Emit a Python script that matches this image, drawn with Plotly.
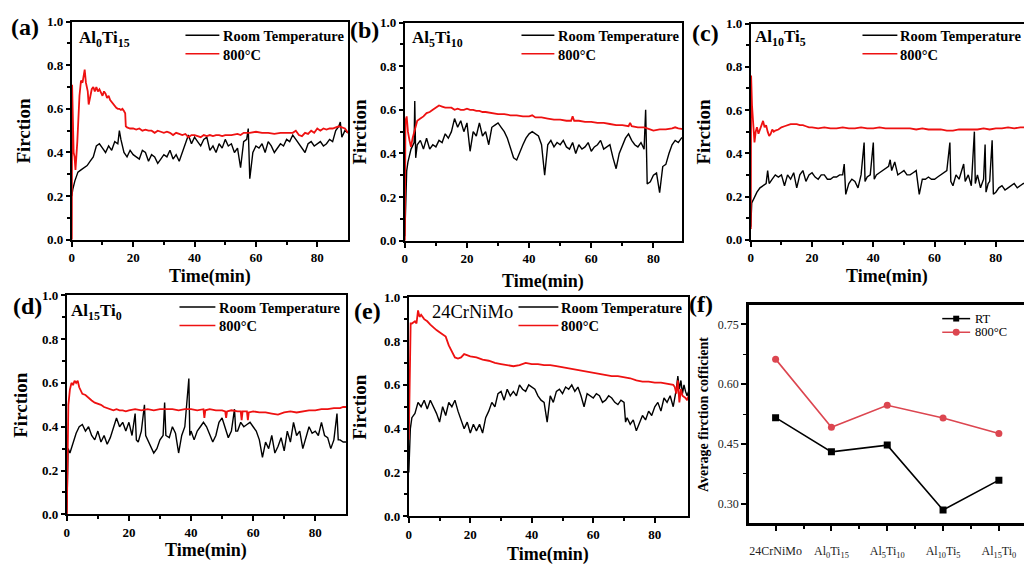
import plotly.graph_objects as go

# ---------------------------------------------------------------------------
# Friction coefficient vs. sliding time, (time [min], friction) pairs
# ---------------------------------------------------------------------------
A_RT = [(0, 0.20), (0.3, 0.23), (1, 0.27), (2, 0.31), (3, 0.32), (4, 0.33), (5, 0.34), (6, 0.36),
        (7, 0.38), (8, 0.43), (9, 0.44), (10, 0.42), (11, 0.40), (12, 0.43), (13, 0.41), (14, 0.45),
        (15, 0.44), (15.5, 0.50), (16, 0.46), (17, 0.40), (18, 0.38), (19, 0.41), (20, 0.39), (21, 0.38),
        (22, 0.37), (23, 0.41), (24, 0.40), (25, 0.36), (26, 0.39), (27, 0.38), (28, 0.35), (29, 0.37),
        (30, 0.39), (31, 0.38), (32, 0.41), (33, 0.37), (34, 0.39), (35, 0.36), (36, 0.40), (37, 0.45),
        (38, 0.48), (39, 0.44), (40, 0.47), (41, 0.45), (42, 0.43), (43, 0.46), (44, 0.47), (45, 0.41),
        (46, 0.43), (47, 0.40), (48, 0.44), (49, 0.42), (50, 0.46), (51, 0.43), (52, 0.44), (53, 0.40),
        (54, 0.42), (55, 0.33), (56, 0.45), (57, 0.46), (57.5, 0.51), (58, 0.28), (59, 0.40), (60, 0.43),
        (61, 0.42), (62, 0.44), (63, 0.40), (64, 0.45), (65, 0.43), (66, 0.40), (67, 0.42), (68, 0.44),
        (69, 0.43), (70, 0.46), (71, 0.45), (72, 0.48), (73, 0.46), (74, 0.44), (75, 0.42), (76, 0.40),
        (77, 0.44), (78, 0.45), (79, 0.43), (80, 0.44), (81, 0.45), (82, 0.43), (83, 0.44), (84, 0.46),
        (85, 0.45), (86, 0.50), (87, 0.52), (87.5, 0.54), (88, 0.47), (89, 0.50), (90, 0.49)]
A_HT = [(0, 0.0), (0.1, 0.71), (0.6, 0.40), (0.9, 0.38), (1.2, 0.32), (1.8, 0.45), (2.5, 0.66), (3, 0.73),
        (3.5, 0.72), (4.2, 0.78), (4.6, 0.72), (5.2, 0.68), (5.5, 0.62), (6, 0.66), (6.5, 0.69), (7, 0.70),
        (7.5, 0.68), (8, 0.70), (8.5, 0.68), (9, 0.69), (9.5, 0.67), (10, 0.66), (10.5, 0.68), (11, 0.67),
        (11.5, 0.65), (12, 0.66), (12.5, 0.64), (13, 0.63), (13.5, 0.62), (14, 0.61), (14.5, 0.605),
        (15, 0.60), (15.5, 0.60), (16, 0.595), (16.5, 0.60), (17, 0.59), (17.4, 0.58), (17.6, 0.52),
        (18, 0.515), (19, 0.51), (20, 0.51), (21, 0.505), (22, 0.51), (23, 0.50), (24, 0.505), (25, 0.50),
        (26, 0.50), (27, 0.49), (28, 0.50), (29, 0.495), (30, 0.49), (31, 0.495), (32, 0.49), (33, 0.48),
        (34, 0.49), (35, 0.485), (36, 0.48), (37, 0.485), (38, 0.47), (39, 0.48), (40, 0.48), (41, 0.475),
        (42, 0.47), (43, 0.48), (44, 0.475), (45, 0.48), (46, 0.475), (47, 0.48), (48, 0.48), (49, 0.475),
        (50, 0.48), (52, 0.48), (54, 0.485), (55, 0.48), (56, 0.49), (58, 0.49), (60, 0.495), (62, 0.49),
        (64, 0.49), (66, 0.485), (68, 0.49), (70, 0.49), (72, 0.49), (73, 0.50), (74, 0.48), (75, 0.475),
        (76, 0.49), (77, 0.485), (78, 0.50), (79, 0.49), (80, 0.51), (81, 0.50), (82, 0.51), (83, 0.505),
        (84, 0.51), (85, 0.51), (86, 0.515), (87, 0.52), (88, 0.515), (89, 0.51), (90, 0.49)]

B_RT = [(0, 0.02), (0.3, 0.25), (0.6, 0.32), (1, 0.36), (2, 0.42), (3, 0.45), (3.2, 0.64), (3.5, 0.38),
        (4, 0.44), (5, 0.46), (6, 0.42), (7, 0.47), (8, 0.42), (9, 0.44), (10, 0.43), (11, 0.46), (12, 0.45),
        (13, 0.49), (14, 0.47), (15, 0.50), (16, 0.56), (17, 0.52), (18, 0.55), (19, 0.50), (20, 0.54),
        (21, 0.41), (22, 0.50), (23, 0.48), (24, 0.54), (25, 0.48), (26, 0.50), (27, 0.44), (28, 0.52),
        (29, 0.53), (30, 0.54), (31, 0.52), (32, 0.50), (33, 0.47), (34, 0.42), (35, 0.38), (36, 0.37),
        (37, 0.41), (38, 0.44), (39, 0.47), (40, 0.49), (41, 0.50), (42, 0.49), (43, 0.48), (44, 0.44),
        (45, 0.30), (46, 0.44), (47, 0.46), (48, 0.43), (49, 0.45), (50, 0.44), (51, 0.46), (52, 0.43),
        (53, 0.42), (54, 0.45), (55, 0.40), (56, 0.44), (57, 0.42), (58, 0.43), (59, 0.45), (60, 0.41),
        (61, 0.43), (62, 0.44), (63, 0.46), (64, 0.42), (65, 0.43), (66, 0.44), (67, 0.38), (68, 0.33),
        (69, 0.40), (70, 0.44), (71, 0.47), (72, 0.49), (73, 0.46), (74, 0.44), (75, 0.43), (76, 0.45),
        (77, 0.42), (77.5, 0.60), (77.8, 0.38), (78, 0.26), (79, 0.27), (80, 0.30), (81, 0.31), (82, 0.22),
        (83, 0.34), (84, 0.35), (85, 0.40), (86, 0.44), (87, 0.46), (88, 0.45), (89, 0.47), (90, 0.48)]
B_HT = [(0, 0.0), (0.2, 0.55), (0.6, 0.57), (1, 0.50), (1.5, 0.46), (2, 0.43), (2.5, 0.47), (3, 0.50),
        (3.5, 0.53), (4, 0.55), (5, 0.56), (6, 0.57), (7, 0.585), (8, 0.59), (9, 0.60), (10, 0.61),
        (11, 0.62), (12, 0.615), (13, 0.61), (14, 0.61), (15, 0.61), (16, 0.60), (17, 0.605), (18, 0.60),
        (19, 0.60), (20, 0.605), (21, 0.60), (22, 0.60), (23, 0.595), (24, 0.595), (25, 0.59), (26, 0.59),
        (28, 0.585), (30, 0.58), (32, 0.58), (34, 0.575), (36, 0.575), (38, 0.57), (40, 0.57), (41, 0.575),
        (42, 0.565), (44, 0.565), (46, 0.56), (48, 0.555), (50, 0.555), (52, 0.55), (53.5, 0.55),
        (54, 0.57), (54.5, 0.55), (56, 0.55), (58, 0.545), (60, 0.545), (62, 0.54), (64, 0.54), (66, 0.535),
        (68, 0.53), (70, 0.53), (72, 0.525), (72.5, 0.54), (73, 0.525), (75, 0.52), (77, 0.52), (78, 0.515),
        (79, 0.51), (80, 0.505), (82, 0.51), (84, 0.51), (86, 0.515), (87, 0.52), (88, 0.515), (90, 0.51)]

C_RT = [(0, 0.06), (0.3, 0.17), (1, 0.19), (2, 0.22), (3, 0.24), (4, 0.25), (5, 0.26), (5.5, 0.32),
        (6, 0.26), (7, 0.28), (8, 0.30), (9, 0.29), (10, 0.30), (11, 0.25), (12, 0.30), (13, 0.28),
        (14, 0.31), (15, 0.24), (16, 0.30), (17, 0.32), (18, 0.27), (19, 0.30), (20, 0.31), (21, 0.29),
        (22, 0.28), (23, 0.30), (24, 0.30), (25, 0.28), (26, 0.28), (27, 0.29), (28, 0.29), (29, 0.30),
        (30, 0.30), (30.5, 0.35), (31, 0.21), (32, 0.26), (33, 0.28), (34, 0.27), (35, 0.24), (36, 0.30),
        (37, 0.45), (37.3, 0.27), (38, 0.29), (39, 0.30), (40, 0.45), (40.3, 0.28), (41, 0.30), (42, 0.31),
        (43, 0.32), (44, 0.33), (45, 0.34), (45.5, 0.37), (46, 0.32), (47, 0.36), (48, 0.30), (49, 0.31),
        (50, 0.32), (51, 0.30), (52, 0.30), (53, 0.31), (54, 0.32), (55, 0.21), (56, 0.28), (57, 0.28),
        (58, 0.29), (59, 0.28), (60, 0.28), (61, 0.29), (62, 0.30), (63, 0.31), (64, 0.32), (65, 0.45),
        (65.3, 0.27), (66, 0.25), (67, 0.30), (68, 0.28), (69, 0.33), (69.5, 0.35), (70, 0.27), (71, 0.30),
        (72, 0.25), (73, 0.50), (73.3, 0.26), (74, 0.30), (75, 0.24), (76, 0.28), (76.5, 0.44), (76.8, 0.22),
        (77.5, 0.26), (78, 0.27), (78.8, 0.46), (79.2, 0.21), (80, 0.22), (81, 0.24), (82, 0.25), (83, 0.23),
        (84, 0.24), (85, 0.25), (86, 0.26), (87, 0.24), (88, 0.25), (89, 0.26), (90, 0.26)]
C_HT = [(0, 0.05), (0.1, 0.76), (0.4, 0.62), (0.8, 0.50), (1.2, 0.45), (1.6, 0.50), (2, 0.52), (2.5, 0.49),
        (3, 0.51), (3.5, 0.54), (4, 0.55), (4.5, 0.52), (5, 0.53), (5.5, 0.50), (6, 0.48), (6.5, 0.49),
        (7, 0.51), (7.5, 0.50), (8, 0.505), (9, 0.51), (10, 0.52), (11, 0.525), (12, 0.53), (13, 0.535),
        (14, 0.535), (15, 0.535), (16, 0.53), (17, 0.53), (18, 0.525), (19, 0.52), (20, 0.52), (22, 0.515),
        (24, 0.52), (26, 0.515), (28, 0.515), (30, 0.52), (32, 0.515), (34, 0.515), (36, 0.52), (38, 0.515),
        (40, 0.515), (42, 0.52), (44, 0.515), (46, 0.515), (48, 0.515), (50, 0.515), (52, 0.515), (54, 0.51),
        (56, 0.515), (58, 0.51), (60, 0.51), (62, 0.51), (64, 0.505), (66, 0.505), (68, 0.51), (70, 0.51),
        (72, 0.51), (74, 0.51), (76, 0.515), (78, 0.51), (80, 0.515), (82, 0.515), (84, 0.52), (86, 0.515),
        (88, 0.52), (90, 0.52)]

D_RT = [(0, 0.0), (0.4, 0.30), (1, 0.28), (2, 0.33), (3, 0.37), (4, 0.40), (5, 0.41), (6, 0.38), (7, 0.40),
        (8, 0.36), (9, 0.34), (10, 0.38), (11, 0.33), (12, 0.36), (13, 0.32), (14, 0.35), (15, 0.40),
        (16, 0.44), (17, 0.40), (18, 0.42), (19, 0.38), (20, 0.42), (21, 0.36), (22, 0.46), (22.4, 0.34),
        (23, 0.33), (24, 0.38), (25, 0.50), (25.4, 0.36), (26, 0.34), (27, 0.31), (28, 0.28), (29, 0.30),
        (30, 0.34), (31, 0.36), (31.5, 0.51), (31.9, 0.36), (33, 0.35), (34, 0.40), (35, 0.37), (36, 0.28),
        (37, 0.36), (38, 0.40), (39.3, 0.62), (39.6, 0.36), (40, 0.38), (41, 0.34), (42, 0.38), (43, 0.40),
        (44, 0.42), (45, 0.40), (46, 0.36), (47, 0.33), (48, 0.36), (49, 0.42), (50, 0.44), (51, 0.40),
        (52, 0.35), (53, 0.38), (54, 0.48), (54.4, 0.38), (55, 0.38), (56, 0.42), (57, 0.40), (58, 0.41),
        (59, 0.42), (60, 0.40), (61, 0.38), (62, 0.34), (63, 0.26), (64, 0.33), (65, 0.30), (66, 0.36),
        (67, 0.28), (68, 0.31), (69, 0.35), (70, 0.29), (71, 0.38), (72, 0.33), (73, 0.42), (74, 0.36),
        (75, 0.38), (76, 0.30), (77, 0.35), (78, 0.40), (79, 0.37), (80, 0.38), (81, 0.36), (82, 0.42),
        (83, 0.36), (84, 0.35), (85, 0.30), (86, 0.34), (87, 0.46), (87.4, 0.34), (88, 0.34), (89, 0.33),
        (90, 0.33)]
D_HT = [(0, 0.0), (0.5, 0.50), (1, 0.57), (1.5, 0.60), (2, 0.59), (2.5, 0.61), (3, 0.60), (3.5, 0.61),
        (4, 0.58), (4.5, 0.56), (5, 0.55), (6, 0.545), (7, 0.53), (8, 0.52), (9, 0.51), (10, 0.505),
        (11, 0.50), (12, 0.49), (13, 0.485), (14, 0.48), (15, 0.475), (16, 0.48), (17, 0.475), (18, 0.475),
        (19, 0.47), (20, 0.475), (22, 0.48), (24, 0.475), (26, 0.48), (28, 0.475), (30, 0.48), (32, 0.48),
        (34, 0.48), (36, 0.475), (38, 0.48), (40, 0.48), (42, 0.475), (44, 0.48), (44.3, 0.44), (44.6, 0.475),
        (46, 0.48), (48, 0.475), (50, 0.475), (51, 0.47), (51.3, 0.44), (51.6, 0.47), (53, 0.475), (55, 0.47),
        (56, 0.47), (56.3, 0.43), (56.6, 0.47), (58, 0.47), (58.3, 0.43), (58.6, 0.465), (60, 0.47),
        (62, 0.465), (64, 0.465), (66, 0.46), (68, 0.455), (70, 0.465), (72, 0.47), (74, 0.465), (76, 0.47),
        (78, 0.475), (80, 0.475), (82, 0.48), (84, 0.48), (86, 0.485), (88, 0.485), (89, 0.49), (90, 0.49)]

E_RT = [(0, 0.20), (0.5, 0.40), (1, 0.45), (2, 0.47), (3, 0.52), (4, 0.50), (5, 0.53), (6, 0.49), (7, 0.53),
        (8, 0.50), (9, 0.47), (10, 0.43), (11, 0.50), (12, 0.46), (13, 0.52), (14, 0.50), (15, 0.53),
        (16, 0.48), (17, 0.44), (18, 0.40), (19, 0.43), (20, 0.38), (21, 0.42), (22, 0.39), (23, 0.42),
        (24, 0.38), (25, 0.45), (26, 0.48), (27, 0.52), (28, 0.50), (29, 0.56), (30, 0.57), (31, 0.53),
        (32, 0.58), (33, 0.55), (34, 0.57), (35, 0.55), (36, 0.60), (37, 0.58), (38, 0.57), (39, 0.60),
        (40, 0.59), (41, 0.58), (42, 0.55), (43, 0.53), (44, 0.52), (45, 0.43), (46, 0.55), (47, 0.52),
        (48, 0.57), (49, 0.58), (50, 0.56), (51, 0.59), (52, 0.58), (53, 0.60), (54, 0.57), (55, 0.59),
        (56, 0.55), (57, 0.50), (58, 0.56), (59, 0.55), (60, 0.54), (61, 0.56), (62, 0.55), (63, 0.52),
        (64, 0.53), (65, 0.55), (66, 0.54), (67, 0.52), (68, 0.51), (69, 0.53), (70, 0.52), (70.5, 0.43),
        (71, 0.45), (72, 0.42), (73, 0.44), (74, 0.39), (75, 0.43), (76, 0.46), (77, 0.44), (78, 0.48),
        (79, 0.46), (80, 0.50), (81, 0.52), (82, 0.48), (83, 0.54), (84, 0.52), (85, 0.55), (86, 0.50),
        (87, 0.58), (87.5, 0.64), (88, 0.58), (88.5, 0.62), (89, 0.56), (89.5, 0.60), (90, 0.57),
        (90.5, 0.55), (91, 0.57)]
E_HT = [(0, 0.35), (0.3, 0.72), (0.6, 0.88), (1, 0.88), (2, 0.89), (2.5, 0.88), (3, 0.94), (3.5, 0.91),
        (4, 0.92), (5, 0.90), (6, 0.89), (7, 0.875), (8, 0.86), (9, 0.85), (10, 0.84), (11, 0.83), (12, 0.82),
        (13, 0.78), (14, 0.75), (15, 0.725), (16, 0.72), (17, 0.725), (18, 0.74), (19, 0.735), (20, 0.73),
        (22, 0.725), (24, 0.715), (26, 0.71), (28, 0.70), (30, 0.695), (32, 0.69), (34, 0.685), (36, 0.69),
        (38, 0.70), (40, 0.695), (42, 0.695), (44, 0.69), (46, 0.69), (48, 0.685), (50, 0.68), (52, 0.675),
        (54, 0.67), (56, 0.665), (58, 0.66), (60, 0.655), (62, 0.65), (64, 0.645), (66, 0.64), (68, 0.64),
        (70, 0.635), (72, 0.63), (74, 0.62), (76, 0.615), (78, 0.615), (80, 0.61), (82, 0.61), (84, 0.605),
        (86, 0.60), (86.5, 0.59), (87, 0.56), (87.5, 0.62), (88, 0.52), (88.5, 0.58), (89, 0.55), (90, 0.54),
        (90.5, 0.53), (91, 0.55)]

# Average friction coefficient per material
F_CATS = ["24CrNiMo", "Al<sub>0</sub>Ti<sub>15</sub>", "Al<sub>5</sub>Ti<sub>10</sub>",
          "Al<sub>10</sub>Ti<sub>5</sub>", "Al<sub>15</sub>Ti<sub>0</sub>"]
F_RT = [0.516, 0.430, 0.447, 0.284, 0.359]
F_HT = [0.663, 0.492, 0.547, 0.515, 0.476]

# ---------------------------------------------------------------------------
W, H = 1024, 573
SERIF = "Liberation Serif, Times New Roman, serif"
RED = "#ee1111"


def fx(px):
    return px / W


def fy(py):
    return 1 - py / H


PANELS = [
    dict(tag="(a)", name="Al<sub>0</sub>Ti<sub>15</sub>", rt=A_RT, ht=A_HT,
         box=(69, 346, 15, 239), xmax=90.0, tag_xy=(22, 21), name_xy=(74, 33), name_bold=True,
         leg=(183, 217, 219, 29, 48), xt_y=277, yt_x=21),
    dict(tag="(b)", name="Al<sub>5</sub>Ti<sub>10</sub>", rt=B_RT, ht=B_HT,
         box=(403, 681, 16, 240), xmax=89.2, tag_xy=(363, 24), name_xy=(408, 33), name_bold=True,
         leg=(520, 553, 555, 29, 48), xt_y=282, yt_x=358),
    dict(tag="(c)", name="Al<sub>10</sub>Ti<sub>5</sub>", rt=C_RT, ht=C_HT,
         box=(750, 1024, 17, 239), xmax=89.2, tag_xy=(705, 27), name_xy=(752, 32), name_bold=True,
         leg=(862, 897, 898, 29, 48), xt_y=277, yt_x=703, open_right=True),
    dict(tag="(d)", name="Al<sub>15</sub>Ti<sub>0</sub>", rt=D_RT, ht=D_HT,
         box=(64, 344, 296, 521), xmax=89.9, tag_xy=(25, 307), name_xy=(66, 313), name_bold=True,
         leg=(177, 213, 215, 308, 327), xt_y=558, yt_x=18),
    dict(tag="(e)", name="24CrNiMo", rt=E_RT, ht=E_HT,
         box=(407, 687, 298, 523), xmax=90.8, tag_xy=(366, 312), name_xy=(428, 313), name_bold=False,
         leg=(517, 557, 558, 308, 327), xt_y=562, yt_x=358),
]

fig = go.Figure()
layout = dict(
    width=W, height=H, autosize=False,
    margin=dict(l=0, r=0, t=0, b=0, pad=0),
    paper_bgcolor="white", plot_bgcolor="white",
    showlegend=False,
    font=dict(family=SERIF, color="black"),
)
annotations = []
shapes = []


def ann(text, x, y, size, bold=False, xanchor="center", yanchor="middle", angle=0, color="black"):
    annotations.append(dict(
        text=text, x=fx(x), y=fy(y), xref="paper", yref="paper",
        xanchor=xanchor, yanchor=yanchor, showarrow=False, textangle=angle,
        font=dict(family=SERIF, size=size, color=color, weight="bold" if bold else "normal"),
    ))


def hline(x0, x1, y, color, width):
    shapes.append(dict(type="line", xref="paper", yref="paper",
                       x0=fx(x0), x1=fx(x1), y0=fy(y), y1=fy(y),
                       line=dict(color=color, width=width)))


tick_font = dict(family=SERIF, size=13, color="black", weight="bold")

for i, p in enumerate(PANELS, start=1):
    sfx = "" if i == 1 else str(i)
    x0, x1, y0, y1 = p["box"]
    layout["xaxis" + sfx] = dict(
        domain=[fx(x0), fx(x1)], range=[0, p["xmax"]], anchor="y" + sfx,
        showline=True, linecolor="black", linewidth=2, mirror=True,
        ticks="outside", ticklen=5, tickwidth=2, tickcolor="black",
        tickmode="array", tickvals=[0, 20, 40, 60, 80],
        minor=dict(ticks="outside", ticklen=3, tickwidth=1.5, tickcolor="black",
                   tickmode="array", tickvals=[10, 30, 50, 70]),
        showgrid=False, zeroline=False, tickfont=tick_font,
    )
    layout["yaxis" + sfx] = dict(
        domain=[fy(y1), fy(y0)], range=[0, 1], anchor="x" + sfx,
        showline=True, linecolor="black", linewidth=2,
        mirror=not p.get("open_right", False),
        ticks="outside", ticklen=4, tickwidth=2, tickcolor="black",
        tickmode="array", tickvals=[0, 0.2, 0.4, 0.6, 0.8, 1.0], tickformat=".1f",
        minor=dict(ticks="outside", ticklen=3, tickwidth=1.5, tickcolor="black",
                   tickmode="array", tickvals=[0.1, 0.3, 0.5, 0.7, 0.9]),
        showgrid=False, zeroline=False, tickfont=tick_font,
    )
    for series, color, width in ((p["rt"], "black", 1.4), (p["ht"], RED, 1.8)):
        fig.add_trace(go.Scatter(
            x=[t for t, _ in series], y=[v for _, v in series], mode="lines",
            line=dict(color=color, width=width), xaxis="x" + sfx, yaxis="y" + sfx,
            hoverinfo="skip", showlegend=False,
        ))
    # panel tag, material name, axis titles
    ann(p["tag"], *p["tag_xy"], 24, bold=True)
    ann(p["name"], p["name_xy"][0], p["name_xy"][1], 17 if p["name_bold"] else 18.5,
        bold=p["name_bold"], xanchor="left")
    ann("Time(min)", (x0 + x1) / 2, p["xt_y"], 18, bold=True)
    ann("Firction", p["yt_x"], (y0 + y1) / 2, 19, bold=True, angle=-90)
    # legend
    lx0, lx1, tx, ly_rt, ly_ht = p["leg"]
    hline(lx0, lx1, ly_rt, "black", 1.5)
    hline(lx0, lx1, ly_ht, RED, 1.5)
    ann("Room Temperature", tx, ly_rt + 1, 14.5, bold=True, xanchor="left")
    ann("800°C", tx, ly_ht + 1, 14.5, bold=True, xanchor="left")

# ---- panel (f): average friction coefficient ----
F_RED = "#dc4650"
fx0, fx1, fy0, fy1 = 748, 1024, 306, 530
layout["xaxis6"] = dict(
    domain=[fx(fx0), fx(fx1)], range=[-0.48, 4.45], anchor="y6",
    showline=True, linecolor="black", linewidth=2.5, mirror=True,
    ticks="outside", ticklen=5, tickwidth=2, tickcolor="black",
    tickmode="array", tickvals=list(range(len(F_CATS))), ticktext=F_CATS,
    ticklabelstandoff=10,
    minor=dict(ticks="outside", ticklen=3, tickwidth=1.5, tickcolor="black",
               tickmode="array", tickvals=[0.5, 1.5, 2.5, 3.5]),
    showgrid=False, zeroline=False,
    tickfont=dict(family=SERIF, size=12, color="#222"),
)
layout["yaxis6"] = dict(
    domain=[fy(fy1), fy(fy0)], range=[0.251, 0.799], anchor="x6",
    showline=True, linecolor="black", linewidth=2.5, mirror=False,
    ticks="outside", ticklen=5, tickwidth=1.5, tickcolor="black",
    tickmode="array", tickvals=[0.30, 0.45, 0.60, 0.75], tickformat=".2f",
    minor=dict(ticks="outside", ticklen=3, tickwidth=1, tickcolor="black",
               tickmode="array", tickvals=[0.375, 0.525, 0.675]),
    showgrid=False, zeroline=False,
    tickfont=dict(family=SERIF, size=12, color="#222"),
)
fig.add_trace(go.Scatter(
    x=list(range(len(F_CATS))), y=F_RT, mode="lines+markers",
    line=dict(color="black", width=1.6), marker=dict(symbol="square", size=7, color="black"),
    xaxis="x6", yaxis="y6", hoverinfo="skip", showlegend=False,
))
fig.add_trace(go.Scatter(
    x=list(range(len(F_CATS))), y=F_HT, mode="lines+markers",
    line=dict(color=F_RED, width=1.6), marker=dict(symbol="circle", size=7, color=F_RED),
    xaxis="x6", yaxis="y6", hoverinfo="skip", showlegend=False,
))
ann("(f)", 700, 305, 24, bold=True)
ann("Average firction cofficient", 702, (fy0 + fy1) / 2, 14, bold=True, angle=-90)
# legend of (f)
hline(942, 970, 320, "black", 1.5)
shapes.append(dict(type="rect", xref="paper", yref="paper",
                   x0=fx(953), x1=fx(959), y0=fy(323), y1=fy(317),
                   fillcolor="black", line=dict(width=0)))
hline(942, 970, 334, F_RED, 1.5)
shapes.append(dict(type="circle", xref="paper", yref="paper",
                   x0=fx(952.5), x1=fx(959.5), y0=fy(337.5), y1=fy(330.5),
                   fillcolor=F_RED, line=dict(width=0)))
ann("RT", 973, 320, 12.5, xanchor="left")
ann("800°C", 973, 334, 12.5, xanchor="left")

layout["annotations"] = annotations
layout["shapes"] = shapes
fig.update_layout(**layout)
fig.write_html("out.html")
